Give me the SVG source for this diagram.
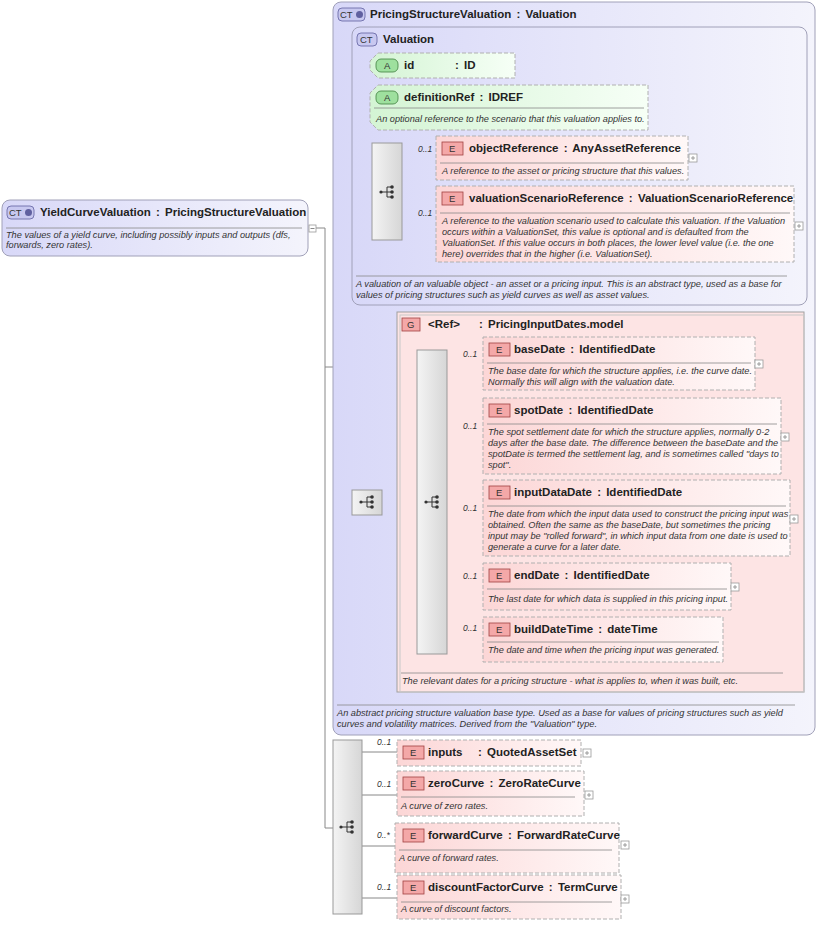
<svg xmlns="http://www.w3.org/2000/svg" width="819" height="927" viewBox="0 0 819 927">
<defs>
<linearGradient id="ctg" x1="0" y1="0" x2="1" y2="0"><stop offset="0" stop-color="#d8d8f8"/><stop offset="1" stop-color="#f4f4fc"/></linearGradient>
<linearGradient id="eg" x1="0" y1="0" x2="1" y2="0"><stop offset="0" stop-color="#fcd6d6"/><stop offset="1" stop-color="#fff8f8"/></linearGradient>
<linearGradient id="ag" x1="0" y1="0" x2="1" y2="0"><stop offset="0" stop-color="#d4f4d4"/><stop offset="1" stop-color="#f6fff6"/></linearGradient>
<linearGradient id="sg" x1="0" y1="0" x2="1" y2="0"><stop offset="0" stop-color="#f4f4f4"/><stop offset="1" stop-color="#d6d6d6"/></linearGradient>
<g id="seqicon"><circle cx="-6" cy="0" r="1.6"/><path d="M-6 0H0M0 -5V5M0 -5H5M0 0H5M0 5H5" stroke="#333" stroke-width="1" fill="none"/><circle cx="5" cy="-5" r="1.8"/><circle cx="5" cy="0" r="1.8"/><circle cx="5" cy="5" r="1.8"/></g>
<g id="plus"><rect x="0" y="0" width="8" height="8" fill="#fff" stroke="#999" stroke-width="0.8"/><path d="M2 4H6M4 2V6" stroke="#888" stroke-width="0.8"/></g>
</defs>
<style>
.ct{fill:url(#ctg);stroke:#a0a0b8;stroke-width:1}
.el{fill:url(#eg);stroke:#b0b0b0;stroke-width:1;stroke-dasharray:4 2}
.at{fill:url(#ag);stroke:#b0b0b0;stroke-width:1;stroke-dasharray:4 2}
.sq{fill:url(#sg);stroke:#999;stroke-width:1}
.h{font-family:"Liberation Sans",Arial,sans-serif;font-size:11.5px;font-weight:bold;fill:#222;word-spacing:2px}
.d{font-family:"Liberation Sans",Arial,sans-serif;font-size:9.2px;font-style:italic;fill:#333}
.m{font-family:"Liberation Sans",Arial,sans-serif;font-size:8.5px;font-style:italic;fill:#333}
.sep{stroke:#888;stroke-width:0.8}
.bE{fill:#f4a8a8;stroke:#a04040;stroke-width:0.8}
.bA{fill:#9ee09e;stroke:#408040;stroke-width:0.8}
.bC{fill:#c8c8f0;stroke:#6060a0;stroke-width:0.8}
.bt{font-family:"Liberation Sans",Arial,sans-serif;font-size:9.5px;fill:#333}
.ln{stroke:#888;stroke-width:1;fill:none}
</style>
<g id="connectors">
<path class="ln" d="M316 228H325V828H333M325 367H333"/>
<path class="ln" d="M342 168V502H352M342 168H352"/>
<path class="ln" d="M362 65V192H372M362 65H372M362 97H372"/>
<path class="ln" d="M402 151H436M402 226H436"/>
<path class="ln" d="M382 502H417"/>
<path class="ln" d="M447 365H483M447 425H483M447 508H483M447 586H483M447 638H483"/>
<path class="ln" d="M362 752H397M362 795H397M362 846H395M362 898H397"/>
</g>
<g id="YieldCurveValuation">
<rect class="ct" x="2" y="200" width="306" height="56" rx="8"/>
<rect class="bC" x="7" y="206" width="27" height="13" rx="4"/><text class="bt" x="9" y="216">CT</text><circle cx="28.5" cy="212.5" r="3.5" fill="#6060a0"/>
<text class="h" x="40" y="216">YieldCurveValuation : PricingStructureValuation</text>
<line class="sep" x1="6" y1="228" x2="302" y2="228"/>
<text class="d" x="6" y="238">The values of a yield curve, including possibly inputs and outputs (dfs,</text>
<text class="d" x="6" y="248">forwards, zero rates).</text>
<rect x="309" y="225" width="7" height="7" fill="#fff" stroke="#999" stroke-width="0.8"/><line x1="310.5" y1="228.5" x2="314.5" y2="228.5" stroke="#888"/>
</g>
<g id="PricingStructureValuation">
<rect class="ct" x="333" y="2" width="482" height="733" rx="8"/>
<rect class="bC" x="338" y="8" width="27" height="13" rx="4"/><text class="bt" x="340" y="18">CT</text><circle cx="359.5" cy="14.5" r="3.5" fill="#6060a0"/>
<text class="h" x="370" y="18">PricingStructureValuation : Valuation</text>
<line class="sep" x1="337" y1="705" x2="795" y2="705"/>
<text class="d" x="337" y="716">An abstract pricing structure valuation base type. Used as a base for values of pricing structures such as yield</text>
<text class="d" x="337" y="727">curves and volatility matrices. Derived from the "Valuation" type.</text>
</g>
<g id="Valuation">
<rect class="ct" x="352" y="27" width="455" height="278" rx="8"/>
<rect class="bC" x="357" y="33" width="20" height="13" rx="4"/><text class="bt" x="360" y="43">CT</text>
<text class="h" x="383" y="43">Valuation</text>
<line class="sep" x1="356" y1="276" x2="787" y2="276"/>
<text class="d" x="356" y="287">A valuation of an valuable object - an asset or a pricing input. This is an abstract type, used as a base for</text>
<text class="d" x="356" y="298">values of pricing structures such as yield curves as well as asset values.</text>
</g>
<g id="id">
<path class="at" d="M378 53H515V78H378L370 70V61Z"/>
<rect class="bA" x="376" y="59" width="22" height="13" rx="5"/><text class="bt" x="384" y="69">A</text>
<text class="h" x="404" y="69">id</text><text class="h" x="455" y="69">: ID</text>
</g>
<g id="definitionRef">
<path class="at" d="M378 85H648V130H378L370 122V93Z"/>
<rect class="bA" x="376" y="91" width="22" height="13" rx="5"/><text class="bt" x="384" y="101">A</text>
<text class="h" x="404" y="101">definitionRef : IDREF</text>
<line class="sep" x1="374" y1="108" x2="644" y2="108"/>
<text class="d" x="376" y="122">An optional reference to the scenario that this valuation applies to.</text>
</g>
<g id="valSeq">
<rect class="sq" x="372" y="143" width="30" height="97"/>
<use href="#seqicon" x="387" y="192" fill="#333"/>
</g>
<g id="objectReference">
<text class="m" x="418" y="152">0..1</text>
<rect class="el" x="436" y="136" width="252" height="44"/>
<rect class="bE" x="442" y="142" width="21" height="13"/><text class="bt" x="449" y="152">E</text>
<text class="h" x="469" y="152">objectReference : AnyAssetReference</text>
<line class="sep" x1="440" y1="163" x2="684" y2="163"/>
<text class="d" x="442" y="174">A reference to the asset or pricing structure that this values.</text>
<use href="#plus" x="689" y="154"/>
</g>
<g id="valuationScenarioReference">
<text class="m" x="418" y="216">0..1</text>
<rect class="el" x="436" y="186" width="358" height="76"/>
<rect class="bE" x="442" y="192" width="21" height="13"/><text class="bt" x="449" y="202">E</text>
<text class="h" x="469" y="202">valuationScenarioReference : ValuationScenarioReference</text>
<line class="sep" x1="440" y1="213" x2="790" y2="213"/>
<text class="d" x="442" y="224">A reference to the valuation scenario used to calculate this valuation. If the Valuation</text>
<text class="d" x="442" y="235">occurs within a ValuationSet, this value is optional and is defaulted from the</text>
<text class="d" x="442" y="246">ValuationSet. If this value occurs in both places, the lower level value (i.e. the one</text>
<text class="d" x="442" y="257">here) overrides that in the higher (i.e. ValuationSet).</text>
<use href="#plus" x="795" y="222"/>
</g>
<g id="smallSeq">
<rect class="sq" x="352" y="490" width="30" height="25"/>
<use href="#seqicon" x="367" y="502" fill="#333"/>
</g>
<g id="RefGroup">
<rect x="397" y="312" width="407" height="380" fill="#fde4e4" stroke="#a0a0a0"/>
<rect x="400" y="315" width="404" height="377" fill="none" stroke="#c8c8c8"/>
<rect class="bE" x="402" y="318" width="18" height="13"/><text class="bt" x="407" y="328">G</text>
<text class="h" x="428" y="328">&lt;Ref&gt;</text><text class="h" x="479" y="328">: PricingInputDates.model</text>
<line class="sep" x1="401" y1="673" x2="783" y2="673"/>
<text class="d" x="402" y="684">The relevant dates for a pricing structure - what is applies to, when it was built, etc.</text>
</g>
<g id="bigSeq">
<rect class="sq" x="417" y="350" width="30" height="304"/>
<use href="#seqicon" x="432" y="502" fill="#333"/>
</g>
<g id="baseDate">
<text class="m" x="463" y="357">0..1</text>
<rect class="el" x="483" y="337" width="272" height="53"/>
<rect class="bE" x="489" y="343" width="21" height="13"/><text class="bt" x="496" y="353">E</text>
<text class="h" x="514" y="353">baseDate : IdentifiedDate</text>
<line class="sep" x1="487" y1="363" x2="751" y2="363"/>
<text class="d" x="488" y="374">The base date for which the structure applies, i.e. the curve date.</text>
<text class="d" x="488" y="385">Normally this will align with the valuation date.</text>
<use href="#plus" x="755" y="360"/>
</g>
<g id="spotDate">
<text class="m" x="463" y="429">0..1</text>
<rect class="el" x="483" y="398" width="298" height="76"/>
<rect class="bE" x="489" y="404" width="21" height="13"/><text class="bt" x="496" y="414">E</text>
<text class="h" x="514" y="414">spotDate : IdentifiedDate</text>
<line class="sep" x1="487" y1="424" x2="777" y2="424"/>
<text class="d" x="488" y="435">The spot settlement date for which the structure applies, normally 0-2</text>
<text class="d" x="488" y="446">days after the base date. The difference between the baseDate and the</text>
<text class="d" x="488" y="457">spotDate is termed the settlement lag, and is sometimes called "days to</text>
<text class="d" x="488" y="468">spot".</text>
<use href="#plus" x="781" y="433"/>
</g>
<g id="inputDataDate">
<text class="m" x="463" y="511">0..1</text>
<rect class="el" x="483" y="480" width="307" height="76"/>
<rect class="bE" x="489" y="486" width="21" height="13"/><text class="bt" x="496" y="496">E</text>
<text class="h" x="514" y="496">inputDataDate : IdentifiedDate</text>
<line class="sep" x1="487" y1="506" x2="786" y2="506"/>
<text class="d" x="488" y="517">The date from which the input data used to construct the pricing input was</text>
<text class="d" x="488" y="528">obtained. Often the same as the baseDate, but sometimes the pricing</text>
<text class="d" x="488" y="539">input may be "rolled forward", in which input data from one date is used to</text>
<text class="d" x="488" y="550">generate a curve for a later date.</text>
<use href="#plus" x="790" y="515"/>
</g>
<g id="endDate">
<text class="m" x="463" y="579">0..1</text>
<rect class="el" x="483" y="563" width="248" height="47"/>
<rect class="bE" x="489" y="569" width="21" height="13"/><text class="bt" x="496" y="579">E</text>
<text class="h" x="514" y="579">endDate  : IdentifiedDate</text>
<line class="sep" x1="487" y1="589" x2="727" y2="589"/>
<text class="d" x="488" y="602">The last date for which data is supplied in this pricing input.</text>
<use href="#plus" x="731" y="583"/>
</g>
<g id="buildDateTime">
<text class="m" x="463" y="631">0..1</text>
<rect class="el" x="483" y="617" width="240" height="45"/>
<rect class="bE" x="489" y="623" width="21" height="13"/><text class="bt" x="496" y="633">E</text>
<text class="h" x="514" y="633">buildDateTime : dateTime</text>
<line class="sep" x1="487" y1="642" x2="719" y2="642"/>
<text class="d" x="488" y="653">The date and time when the pricing input was generated.</text>
</g>
<g id="bottomSeq">
<rect class="sq" x="333" y="740" width="29" height="174"/>
<use href="#seqicon" x="347" y="827" fill="#333"/>
</g>
<g id="inputs">
<text class="m" x="377" y="745">0..1</text>
<rect class="el" x="397" y="740" width="184" height="26"/>
<rect class="bE" x="403" y="746" width="21" height="13"/><text class="bt" x="410" y="756">E</text>
<text class="h" x="428" y="756">inputs</text><text class="h" x="478" y="756">: QuotedAssetSet</text>
<use href="#plus" x="583" y="749"/>
</g>
<g id="zeroCurve">
<text class="m" x="377" y="787">0..1</text>
<rect class="el" x="397" y="771" width="187" height="45"/>
<rect class="bE" x="403" y="777" width="21" height="13"/><text class="bt" x="410" y="787">E</text>
<text class="h" x="428" y="787">zeroCurve : ZeroRateCurve</text>
<line class="sep" x1="401" y1="797" x2="575" y2="797"/>
<text class="d" x="401" y="809">A curve of zero rates.</text>
<use href="#plus" x="585" y="791"/>
</g>
<g id="forwardCurve">
<text class="m" x="377" y="838">0..*</text>
<rect class="el" x="395" y="823" width="224" height="50"/>
<rect class="bE" x="403" y="829" width="21" height="13"/><text class="bt" x="410" y="839">E</text>
<text class="h" x="428" y="839">forwardCurve : ForwardRateCurve</text>
<line class="sep" x1="399" y1="850" x2="612" y2="850"/>
<text class="d" x="399" y="861">A curve of forward rates.</text>
<use href="#plus" x="621" y="841"/>
</g>
<g id="discountFactorCurve">
<text class="m" x="377" y="890">0..1</text>
<rect class="el" x="397" y="875" width="224" height="44"/>
<rect class="bE" x="403" y="881" width="21" height="13"/><text class="bt" x="410" y="891">E</text>
<text class="h" x="428" y="891">discountFactorCurve : TermCurve</text>
<line class="sep" x1="401" y1="902" x2="612" y2="902"/>
<text class="d" x="401" y="912">A curve of discount factors.</text>
<use href="#plus" x="621" y="895"/>
</g>
</svg>
